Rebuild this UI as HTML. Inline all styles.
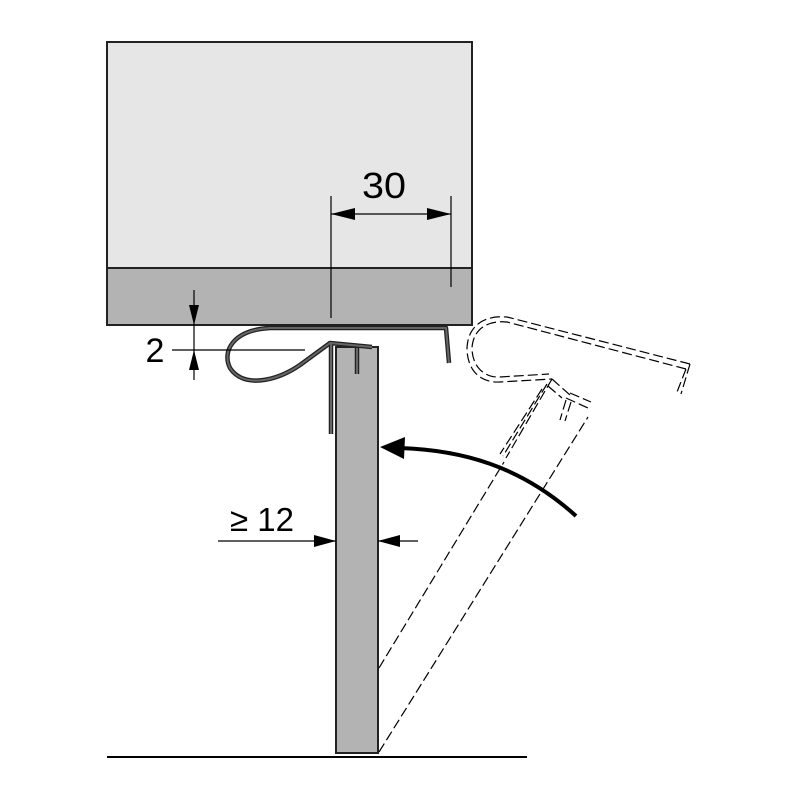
<!DOCTYPE html>
<html><head><style>body{margin:0;background:#fff}svg{display:block}</style></head><body>
<svg width="800" height="800" viewBox="0 0 800 800" xmlns="http://www.w3.org/2000/svg">
<rect x="107" y="42" width="365" height="283" fill="#e6e6e6" stroke="#222" stroke-width="2"/>
<rect x="107" y="268" width="365" height="57" fill="#b3b3b3" stroke="#222" stroke-width="2"/>
<!-- dim 30 -->
<line x1="331" y1="196" x2="331" y2="318" stroke="#000" stroke-width="1.2"/>
<line x1="451" y1="196" x2="451" y2="287" stroke="#000" stroke-width="1.2"/>
<line x1="331" y1="214" x2="451" y2="214" stroke="#000" stroke-width="1.2"/>
<polygon points="331,214 355,208 355,220" fill="#000"/>
<polygon points="451,214 427,208 427,220" fill="#000"/>
<text x="384" y="198" font-family="Liberation Sans, sans-serif" font-size="36" text-anchor="middle" textLength="44" lengthAdjust="spacingAndGlyphs">30</text>
<!-- panel -->
<rect x="336" y="347" width="42" height="406" fill="#b3b3b3" stroke="#222" stroke-width="2"/>
<line x1="107" y1="757" x2="527" y2="757" stroke="#000" stroke-width="2"/>
<!-- clip -->
<g fill="none" stroke="#222" stroke-width="4.5" stroke-linejoin="round"><path d="M449,363 L446,328 L270,328 C232,330 222,352 230,368 C243,388 275,382 300,365 L330,343 L372,347"/>
<path d="M331,343 L331,434"/><path d="M357,348 L357,374"/></g>
<g fill="none" stroke="#666" stroke-width="2" stroke-linejoin="round"><path d="M449,363 L446,328 L270,328 C232,330 222,352 230,368 C243,388 275,382 300,365 L330,343 L372,347"/>
<path d="M331,343 L331,434"/><path d="M357,348 L357,374"/></g>
<!-- dim 2 -->
<line x1="194" y1="290" x2="194" y2="380" stroke="#000" stroke-width="1.2"/>
<line x1="172" y1="350" x2="305" y2="350" stroke="#000" stroke-width="1.2"/>
<polygon points="194,325 189,305 199,305" fill="#000"/>
<polygon points="194,350 189,370 199,370" fill="#000"/>
<text x="155" y="362" font-family="Liberation Sans, sans-serif" font-size="34" text-anchor="middle">2</text>
<!-- dim 12 -->
<text x="262" y="531" font-family="Liberation Sans, sans-serif" font-size="33" text-anchor="middle">≥ 12</text>
<line x1="218" y1="541" x2="336" y2="541" stroke="#000" stroke-width="1.2"/>
<polygon points="336,541 314,535 314,547" fill="#000"/>
<line x1="378" y1="541" x2="418" y2="541" stroke="#000" stroke-width="1.2"/>
<polygon points="378,541 400,535 400,547" fill="#000"/>
<!-- curved arrow -->
<path d="M576,516 C520,465 460,450 400,448" fill="none" stroke="#000" stroke-width="4"/>
<polygon points="380,447 405,437 404,459" fill="#000"/>
<!-- ghost -->
<g fill="none" stroke="#000" stroke-width="1.2" stroke-dasharray="10,4">
<line x1="379" y1="668" x2="504" y2="462"/>
<line x1="379" y1="752" x2="588" y2="417"/>
<path d="M690,364 L507,317 C485,315 468,325 467,348 C467,370 480,383 500,382 L552,379"/>
<path d="M686,369 L507,322 C488,320 473,329 472,348 C472,366 484,378 500,377 L549,374"/>
<path d="M690,364 L681,394 M686,369 L677,392"/>
<path d="M552,379 L506,458 M547,384 L503,456 M542,389 L500,454"/>
<path d="M552,379 L570,395 M548,386 L562,398 M566,398 L588,408 M570,393 L591,402 M566,400 L560,420 M571,402 L565,421"/>
</g>
</svg>
</body></html>
